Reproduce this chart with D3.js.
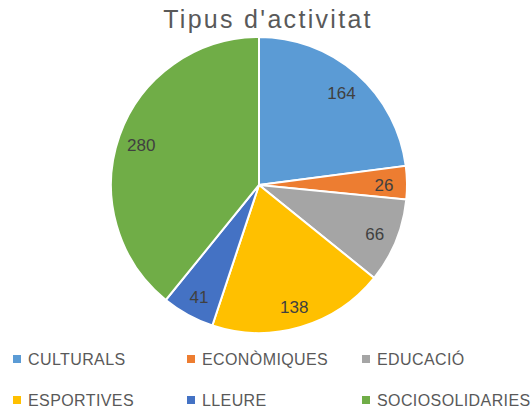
<!DOCTYPE html>
<html>
<head>
<meta charset="utf-8">
<script src="https://cdn.jsdelivr.net/npm/d3@7"></script>
<style>
  body { margin: 0; background: #fff; }
  svg text { font-family: "Liberation Sans", Arial, sans-serif; }
</style>
</head>
<body>
<div id="chart"></div>
<script>
// values
var categories = ["CULTURALS", "ECONÒMIQUES", "EDUCACIÓ", "ESPORTIVES", "LLEURE", "SOCIOSOLIDARIES"];
var values = [164, 26, 66, 138, 41, 280];
var colors = ["#5B9BD5", "#ED7D31", "#A5A5A5", "#FFC000", "#4472C4", "#70AD47"];
var title = "Tipus d'activitat";

(function () {
    var width = 531, height = 412,
        cx = 259, cy = 185,
        radius = 148,
        labelRadius = 125;

    var data = categories.map(function (c, i) {
        return {name: c, value: values[i]};
    });

    var svg = d3.select("#chart")
        .append("svg")
        .attr("width", width)
        .attr("height", height);

    svg.append("text")
        .attr("x", 268)
        .attr("y", 28)
        .attr("text-anchor", "middle")
        .style("font-size", "25px")
        .style("letter-spacing", "2.3px")
        .style("fill", "#595959")
        .text(title);

    var color = d3.scaleOrdinal()
        .domain(categories)
        .range(colors);

    var pie = d3.pie()
        .sort(null)
        .value(function (d) { return d.value; });

    var arc = d3.arc()
        .innerRadius(0)
        .outerRadius(radius);

    var labelArc = d3.arc()
        .innerRadius(labelRadius)
        .outerRadius(labelRadius);

    var g = svg.append("g")
        .attr("transform", "translate(" + cx + "," + cy + ")");

    var slices = g.selectAll("g.slice")
        .data(pie(data))
        .enter().append("g")
        .attr("class", "slice");

    slices.append("path")
        .attr("d", arc)
        .attr("fill", function (d) { return color(d.data.name); })
        .attr("stroke", "#fff")
        .attr("stroke-width", 2);

    slices.append("text")
        .attr("transform", function (d) {
            var c = labelArc.centroid(d);
            return "translate(" + c[0] + "," + (c[1] + 2) + ")";
        })
        .attr("text-anchor", "middle")
        .attr("dy", "0.35em")
        .style("font-size", "17px")
        .style("fill", "#404040")
        .text(function (d) { return d.data.value; });

    // legend, 3 per row
    var colX = [13, 187, 362],
        rowY = [359, 400];

    var legend = svg.selectAll("g.legend")
        .data(categories)
        .enter().append("g")
        .attr("class", "legend")
        .attr("transform", function (d, i) {
            return "translate(" + colX[i % 3] + "," + rowY[Math.floor(i / 3)] + ")";
        });

    legend.append("rect")
        .attr("x", 0)
        .attr("y", -4)
        .attr("width", 8)
        .attr("height", 8)
        .attr("fill", function (d) { return color(d); });

    legend.append("text")
        .attr("x", 15)
        .attr("dy", "0.36em")
        .style("font-size", "16px")
        .style("letter-spacing", "0.4px")
        .style("fill", "#595959")
        .text(function (d) { return d; });
}());
</script>
</body>
</html>
